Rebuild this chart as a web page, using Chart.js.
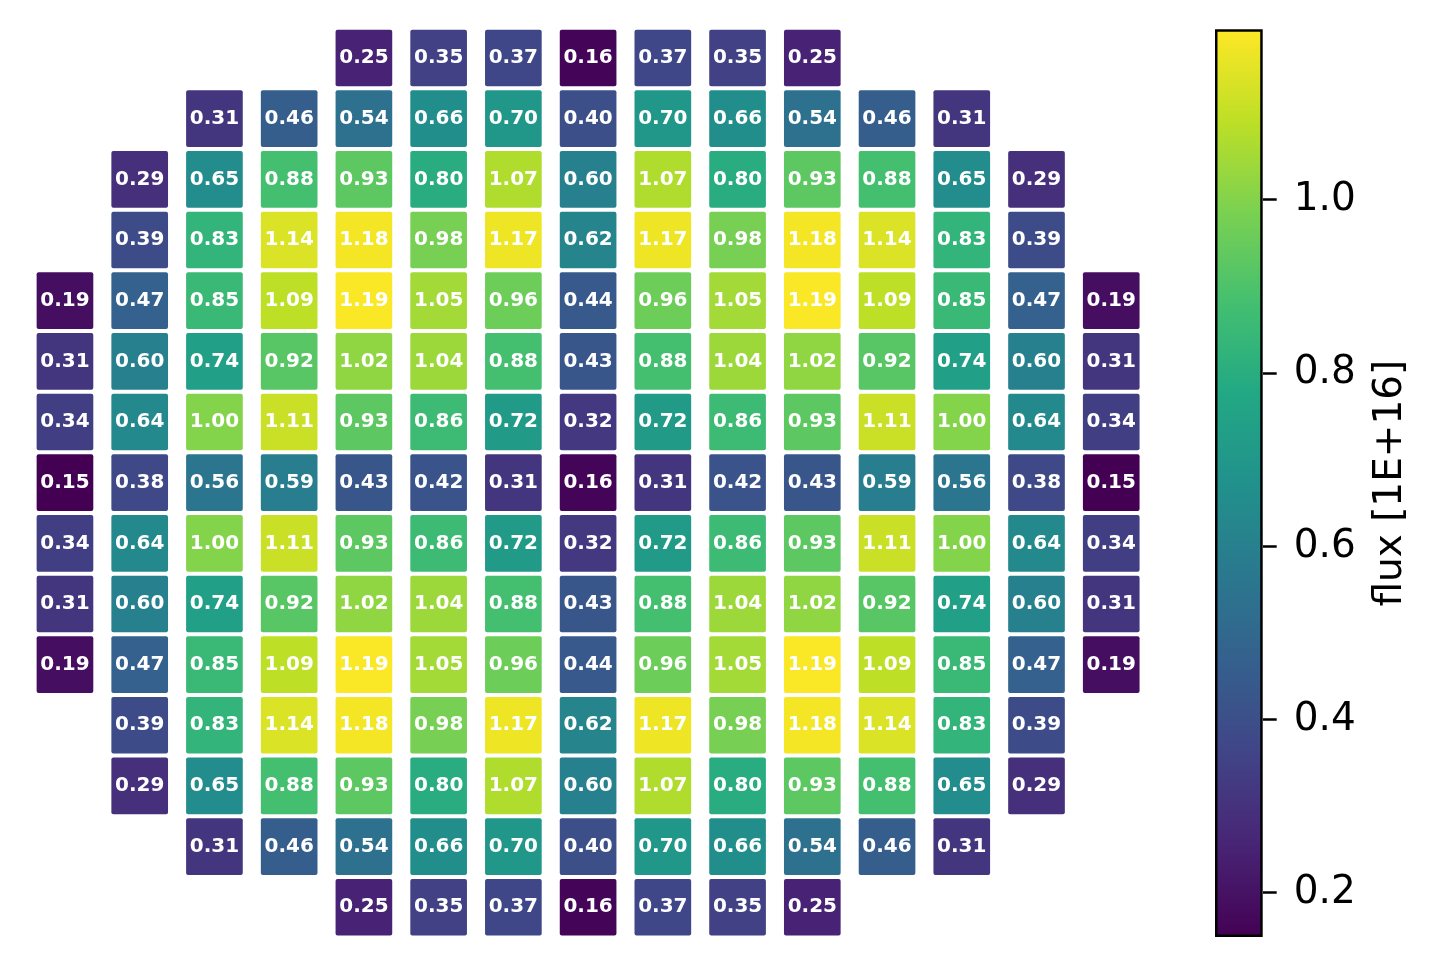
<!DOCTYPE html>
<html>
<head>
<meta charset="utf-8">
<script src="https://cdn.jsdelivr.net/npm/chart.js@4.4.0/dist/chart.umd.min.js"></script>
<style>
  body { margin: 0; background: #fff; }
  #wrap { position: relative; width: 1443px; height: 966px; }
  #fluxMap { position: absolute; left: 0; top: 0; }
  #colorBar { position: absolute; left: 1150px; top: 0; }
</style>
</head>
<body>
<div id="wrap">
  <canvas id="fluxMap" width="1180" height="966"></canvas>
  <canvas id="colorBar" width="293" height="966"></canvas>
</div>
<script>
// flux per cell, one array per row (top to bottom), null = no cell
const r0  = [null, null, null, null, 0.25, 0.35, 0.37, 0.16, 0.37, 0.35, 0.25, null, null, null, null];
const r1  = [null, null, 0.31, 0.46, 0.54, 0.66, 0.70, 0.40, 0.70, 0.66, 0.54, 0.46, 0.31, null, null];
const r2  = [null, 0.29, 0.65, 0.88, 0.93, 0.80, 1.07, 0.60, 1.07, 0.80, 0.93, 0.88, 0.65, 0.29, null];
const r3  = [null, 0.39, 0.83, 1.14, 1.18, 0.98, 1.17, 0.62, 1.17, 0.98, 1.18, 1.14, 0.83, 0.39, null];
const r4  = [0.19, 0.47, 0.85, 1.09, 1.19, 1.05, 0.96, 0.44, 0.96, 1.05, 1.19, 1.09, 0.85, 0.47, 0.19];
const r5  = [0.31, 0.60, 0.74, 0.92, 1.02, 1.04, 0.88, 0.43, 0.88, 1.04, 1.02, 0.92, 0.74, 0.60, 0.31];
const r6  = [0.34, 0.64, 1.00, 1.11, 0.93, 0.86, 0.72, 0.32, 0.72, 0.86, 0.93, 1.11, 1.00, 0.64, 0.34];
const r7  = [0.15, 0.38, 0.56, 0.59, 0.43, 0.42, 0.31, 0.16, 0.31, 0.42, 0.43, 0.59, 0.56, 0.38, 0.15];
const r8  = [0.34, 0.64, 1.00, 1.11, 0.93, 0.86, 0.72, 0.32, 0.72, 0.86, 0.93, 1.11, 1.00, 0.64, 0.34];
const r9  = [0.31, 0.60, 0.74, 0.92, 1.02, 1.04, 0.88, 0.43, 0.88, 1.04, 1.02, 0.92, 0.74, 0.60, 0.31];
const r10 = [0.19, 0.47, 0.85, 1.09, 1.19, 1.05, 0.96, 0.44, 0.96, 1.05, 1.19, 1.09, 0.85, 0.47, 0.19];
const r11 = [null, 0.39, 0.83, 1.14, 1.18, 0.98, 1.17, 0.62, 1.17, 0.98, 1.18, 1.14, 0.83, 0.39, null];
const r12 = [null, 0.29, 0.65, 0.88, 0.93, 0.80, 1.07, 0.60, 1.07, 0.80, 0.93, 0.88, 0.65, 0.29, null];
const r13 = [null, null, 0.31, 0.46, 0.54, 0.66, 0.70, 0.40, 0.70, 0.66, 0.54, 0.46, 0.31, null, null];
const r14 = [null, null, null, null, 0.25, 0.35, 0.37, 0.16, 0.37, 0.35, 0.25, null, null, null, null];
const rows = [r0, r1, r2, r3, r4, r5, r6, r7, r8, r9, r10, r11, r12, r13, r14];

// colour scale limits and colorbar ticks
const cMin = 0.15;
const cMax = 1.195;
const cbTicks = [0.2, 0.4, 0.6, 0.8, 1.0];
const cbLabel = 'flux [1E+16]';

// viridis, sampled every 0.1
const VIRIDIS = ['#440154', '#482475', '#414487', '#355f8d', '#2a788e', '#21918c',
                 '#22a884', '#44bf70', '#7ad151', '#bddf26', '#fde725'];

function hexToRgb(h) {
  return [parseInt(h.slice(1, 3), 16), parseInt(h.slice(3, 5), 16), parseInt(h.slice(5, 7), 16)];
}

function viridis(t) {
  t = Math.min(1, Math.max(0, t));
  const p = t * (VIRIDIS.length - 1);
  const i = Math.min(Math.floor(p), VIRIDIS.length - 2);
  const f = p - i;
  const a = hexToRgb(VIRIDIS[i]);
  const b = hexToRgb(VIRIDIS[i + 1]);
  const c = a.map((v, k) => Math.round(v + (b[k] - v) * f));
  return `rgb(${c[0]}, ${c[1]}, ${c[2]})`;
}

const norm = v => (v - cMin) / (cMax - cMin);

// one floating bar per cell
const halfH = 0.4616;
const cells = [];
rows.forEach((row, r) => {
  row.forEach((v, c) => {
    if (v !== null) cells.push({ x: c, y: [r - halfH, r + halfH], v: v });
  });
});

const cellLabels = {
  id: 'cellLabels',
  afterDatasetsDraw(chart) {
    const ctx = chart.ctx;
    const meta = chart.getDatasetMeta(0);
    ctx.save();
    ctx.fillStyle = '#fff';
    ctx.font = 'bold 20px "DejaVu Sans"';
    ctx.textAlign = 'center';
    ctx.textBaseline = 'middle';
    meta.data.forEach((el, i) => {
      const p = el.getCenterPoint();
      ctx.fillText(cells[i].v.toFixed(2), p.x, p.y);
    });
    ctx.restore();
  }
};

new Chart(document.getElementById('fluxMap'), {
  type: 'bar',
  data: {
    datasets: [{
      data: cells,
      backgroundColor: c => c.raw ? viridis(norm(c.raw.v)) : '#000',
      borderWidth: 0,
      borderRadius: 2,
      borderSkipped: false,
      barThickness: 56,
      grouped: false
    }]
  },
  options: {
    responsive: false,
    animation: false,
    layout: { padding: { left: 27.6, right: 31.4, top: 27.7, bottom: 28.4 } },
    plugins: { legend: { display: false }, tooltip: { enabled: false } },
    scales: {
      x: { type: 'linear', min: -0.5, max: 14.5, offset: false, display: false },
      y: { type: 'linear', min: -0.5, max: 14.5, reverse: true, display: false }
    }
  },
  plugins: [cellLabels]
});

// colorbar
const cbMin = 0.149;
const cbMax = 1.197;

const cbTitle = {
  id: 'cbTitle',
  afterDraw(chart) {
    const ctx = chart.ctx;
    const area = chart.chartArea;
    ctx.save();
    ctx.translate(241, (area.top + area.bottom) / 2);
    ctx.rotate(-Math.PI / 2);
    ctx.fillStyle = '#000';
    ctx.font = '39px "DejaVu Sans"';
    ctx.textAlign = 'center';
    ctx.textBaseline = 'middle';
    ctx.fillText(cbLabel, 0, 0);
    ctx.restore();
  }
};

new Chart(document.getElementById('colorBar'), {
  type: 'bar',
  data: {
    labels: [''],
    datasets: [{
      data: [[cbMin, cbMax]],
      backgroundColor: c => {
        const chart = c.chart;
        if (!chart.chartArea) return '#888';
        const ys = chart.scales.y;
        const g = chart.ctx.createLinearGradient(0, ys.getPixelForValue(cMin), 0, ys.getPixelForValue(cMax));
        for (let k = 0; k <= 20; k++) g.addColorStop(k / 20, viridis(k / 20));
        return g;
      },
      borderColor: '#000',
      borderWidth: 2.8,
      borderSkipped: false,
      categoryPercentage: 1,
      barPercentage: 1
    }]
  },
  options: {
    responsive: false,
    animation: false,
    layout: { padding: { left: 65, right: 0, top: 29.3, bottom: 29 } },
    plugins: { legend: { display: false }, tooltip: { enabled: false } },
    scales: {
      x: { display: false },
      y: {
        position: 'right',
        min: cbMin,
        max: cbMax,
        afterBuildTicks: s => { s.ticks = cbTicks.map(v => ({ value: v })); },
        afterFit: s => { s.width = 180.3; s.paddingTop = 0; s.paddingBottom = 0; },
        grid: { drawOnChartArea: false, drawTicks: true, tickLength: 14, tickColor: '#000', tickWidth: 2.5 },
        border: { display: false },
        ticks: {
          color: '#000',
          padding: 17,
          font: { family: 'DejaVu Sans', size: 39 },
          callback: v => v.toFixed(1)
        }
      }
    }
  },
  plugins: [cbTitle]
});
</script>
</body>
</html>
